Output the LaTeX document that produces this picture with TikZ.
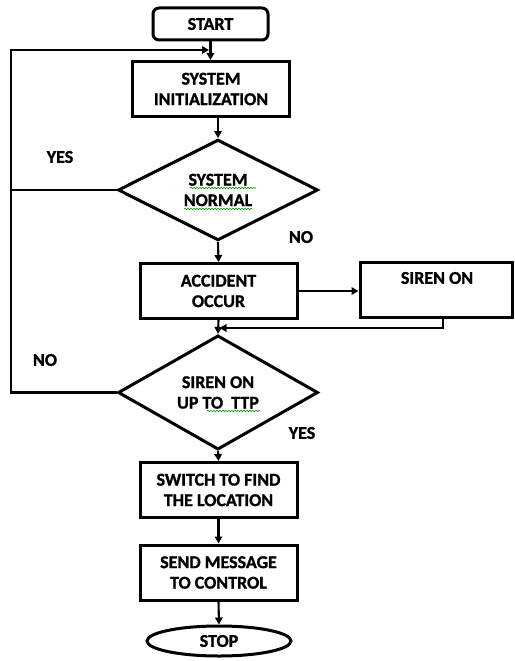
\documentclass[tikz,border=0pt]{standalone}
\usepackage{fontspec}
\setmainfont{Carlito}[BoldFeatures={FakeBold=1.2}]
\usetikzlibrary{shapes.geometric,arrows.meta,decorations.pathmorphing}
\begin{document}
\begin{tikzpicture}[x=1pt,y=-1pt,
  txt/.style={font=\bfseries\fontsize{18}{20.5}\selectfont, align=center, inner sep=0},
  box/.style={txt, draw, line width=3pt, rectangle, minimum width=157pt, minimum height=55pt},
  dia/.style={txt, draw, line width=3pt, diamond, minimum width=200pt, minimum height=93pt},
  conn/.style={line width=2.1pt},
  arr/.style={conn, -{Triangle[length=7pt,width=7.5pt]}},
  squig/.style={green!55!black, line width=0.6pt, decorate, decoration={snake, amplitude=0.7pt, segment length=3pt}}
]
\useasboundingbox (0,0) rectangle (514,661);

\node[txt, draw, line width=3pt, rounded corners=6pt, minimum width=115pt, minimum height=32pt] (start) at (210.5,24) {START};
\node[box] (init) at (211,89) {SYSTEM\\INITIALIZATION};
\node[dia] (d1) at (218,190) {SYSTEM\\NORMAL};
\node[box] (acc) at (218.5,291) {ACCIDENT\\OCCUR};
\node[box, minimum width=152pt] (siren) at (436,289.5) {};
\node[txt] (sirentxt) at (437,278) {SIREN ON};
\node[dia] (d2) at (218,392.5) {SIREN ON\\UP TO\ \ TTP};
\node[box] (sw) at (218.5,490) {SWITCH TO FIND\\THE LOCATION};
\node[box] (send) at (218.5,572.5) {SEND MESSAGE\\TO CONTROL};
\node[txt, draw, line width=3pt, ellipse, minimum width=144pt, minimum height=30pt] (stop) at (219,641) {STOP};

\node[txt] (yes1) at (60,157) {YES};
\node[txt] (no1) at (301,237) {NO};
\node[txt] (no2) at (45,360) {NO};
\node[txt] (yes2) at (302,433) {YES};

\coordinate (lc) at (11,50);
\coordinate (lj) at (209,50);
\coordinate (sr) at (443,328);

\draw[arr] (start.south) -- (start.south |- init.north);
\draw[arr] (init.south -| d1.north) -- (d1.north);
\draw[arr] (d1.south) -- (acc.north);
\draw[arr] (acc.east) -- (acc.east -| siren.west);
\draw[arr] (siren.south -| sr) -- (sr) -- ([xshift=1pt]sr -| acc.south);
\draw[arr] (acc.south) -- (d2.north);
\draw[arr] (d2.south) -- (sw.north);
\draw[arr] (sw.south) -- (send.north);
\draw[arr] (send.south) -- (stop.north);
\draw[arr] (d2.west) -| (lc) -- (lj);
\draw[conn] (d1.west) -- (d1.west -| lc);

\draw[squig] (190,188) -- (256,188);
\draw[squig] (184,209) -- (252,209);
\draw[squig] (207,411) -- (260,411);
\end{tikzpicture}
\end{document}
